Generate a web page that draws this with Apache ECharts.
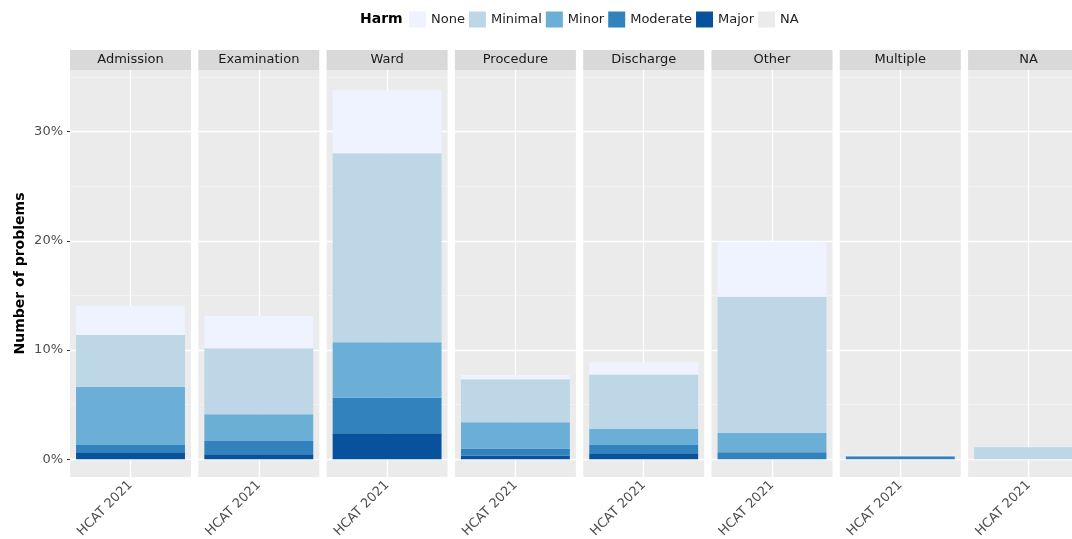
<!DOCTYPE html>
<html>
<head>
<meta charset="utf-8">
<script src="https://cdn.jsdelivr.net/npm/echarts@6/dist/echarts.min.js"></script>
<style>
  html, body { margin: 0; padding: 0; background: #ffffff; }
  #chart { width: 1072px; height: 539px; }
</style>
</head>
<body>
<div id="chart"></div>
<script>
// Facets (where the problem happened) and the single survey on the x axis
const facets = ['Admission', 'Examination', 'Ward', 'Procedure', 'Discharge', 'Other', 'Multiple', 'NA'];
const xCategory = ['HCAT 2021'];
const harmLevels = ['None', 'Minimal', 'Minor', 'Moderate', 'Major', 'NA'];

// Share of problems (%) for each harm level, one value per facet
const major    = [0.64, 0.46, 2.38, 0.33, 0.55, 0.00, 0.00, 0.00];
const moderate = [0.67, 1.22, 3.26, 0.67, 0.76, 0.64, 0.27, 0.00];
const minor    = [5.34, 2.44, 5.07, 2.39, 1.46, 1.76, 0.00, 0.00];
const minimal  = [4.73, 6.04, 17.31, 3.94, 5.00, 12.49, 0.00, 1.10];
const none     = [2.69, 2.96, 5.80, 0.39, 1.14, 5.04, 0.10, 0.00];
const harmNA   = [0, 0, 0, 0, 0, 0, 0, 0];

// Y axis ticks (major) and the minor grid lines between them
const yTicks = [0, 10, 20, 30];
const yMinorTicks = [5, 15, 25, 35];

// Stacking order from the bottom of each bar upwards
const stackOrder = [
  ['Major', major],
  ['Moderate', moderate],
  ['Minor', minor],
  ['Minimal', minimal],
  ['None', none],
  ['NA', harmNA]
];
const harmColors = {
  None: '#eff3ff', Minimal: '#bdd7e7', Minor: '#6baed6',
  Moderate: '#3182bd', Major: '#08519c', NA: '#ebebeb'
};

// Panel layout
const FONT = 'DejaVu Sans';
const panelLeft0 = 70, panelPitch = 128.3, panelWidth = 121;
const panelTop = 70, panelHeight = 407, stripTop = 50, stripHeight = 20;
const yMin = -1.62, yMax = 35.65;

const grids = [], xAxes = [], yAxes = [], series = [], graphics = [];

facets.forEach((facet, i) => {
  const left = panelLeft0 + i * panelPitch;
  grids.push({
    left: left, top: panelTop, width: panelWidth, height: panelHeight,
    show: true, backgroundColor: '#ebebeb', borderWidth: 0,
    containLabel: false, outerBoundsMode: 'none'
  });
  xAxes.push({
    type: 'category', gridIndex: i, data: xCategory,
    axisLine: { show: false },
    axisTick: { show: true, alignWithLabel: true, length: 3, lineStyle: { color: '#333333', width: 1 } },
    axisLabel: { rotate: 45, margin: 6, color: '#4d4d4d', fontSize: 13, fontFamily: FONT },
    splitLine: { show: false }
  });
  yAxes.push({
    type: 'value', gridIndex: i, min: yMin, max: yMax,
    axisLine: { show: false },
    splitLine: { show: false },
    axisTick: i === 0
      ? { show: true, customValues: yTicks, length: 3, lineStyle: { color: '#333333', width: 1 } }
      : { show: false },
    axisLabel: i === 0
      ? { show: true, customValues: yTicks, formatter: v => v + '%', color: '#4d4d4d',
          fontSize: 13, fontFamily: FONT, margin: 7 }
      : { show: false }
  });

  // White panel grid lines, drawn beneath the bars
  series.push({
    type: 'line', xAxisIndex: i, yAxisIndex: i, data: ['-'], symbol: 'none', silent: true,
    markLine: {
      z: 1, silent: true, symbol: ['none', 'none'], label: { show: false },
      emphasis: { disabled: true },
      lineStyle: { color: '#ffffff', type: 'solid', width: 1.3 },
      data: [
        ...yTicks.map(v => ({ yAxis: v })),
        ...yMinorTicks.map(v => ({ yAxis: v, lineStyle: { width: 0.6, color: '#f7f7f7' } })),
        { xAxis: xCategory[0] }
      ]
    }
  });

  // Stacked harm bars
  stackOrder.forEach(([name, values]) => {
    series.push({
      type: 'bar', name: name, xAxisIndex: i, yAxisIndex: i,
      stack: 'facet' + i, barWidth: '90%', z: 2,
      itemStyle: { color: harmColors[name] },
      emphasis: { disabled: true },
      data: [values[i]]
    });
  });

  // Facet strip
  graphics.push({
    type: 'rect', silent: true,
    shape: { x: left, y: stripTop, width: panelWidth, height: stripHeight },
    style: { fill: '#d9d9d9' }
  });
  graphics.push({
    type: 'text', silent: true, x: left + panelWidth / 2, y: stripTop + stripHeight / 2,
    style: { text: facet, fontFamily: FONT, fontSize: 13, fill: '#1a1a1a',
             align: 'center', verticalAlign: 'middle' }
  });
});

// Axis title and legend title
graphics.push({
  type: 'text', silent: true, x: 20, y: panelTop + panelHeight / 2, rotation: Math.PI / 2,
  style: { text: 'Number of problems', fontFamily: FONT, fontSize: 14, fontWeight: 'bold',
           fill: '#000000', align: 'center', verticalAlign: 'middle' }
});
graphics.push({
  type: 'text', silent: true, x: 360, y: 19.5,
  style: { text: 'Harm', fontFamily: FONT, fontSize: 14, fontWeight: 'bold',
           fill: '#000000', align: 'left', verticalAlign: 'middle' }
});

const chart = echarts.init(document.getElementById('chart'), null, { renderer: 'canvas' });
chart.setOption({
  backgroundColor: '#ffffff',
  animation: false,
  legend: {
    data: harmLevels, left: 409, top: 11.5, padding: 0,
    itemWidth: 17, itemHeight: 16, itemGap: 4, icon: 'rect',
    selectedMode: false,
    textStyle: { fontFamily: FONT, fontSize: 13, color: '#222222' }
  },
  grid: grids,
  xAxis: xAxes,
  yAxis: yAxes,
  series: series,
  graphic: graphics
});
</script>
</body>
</html>
